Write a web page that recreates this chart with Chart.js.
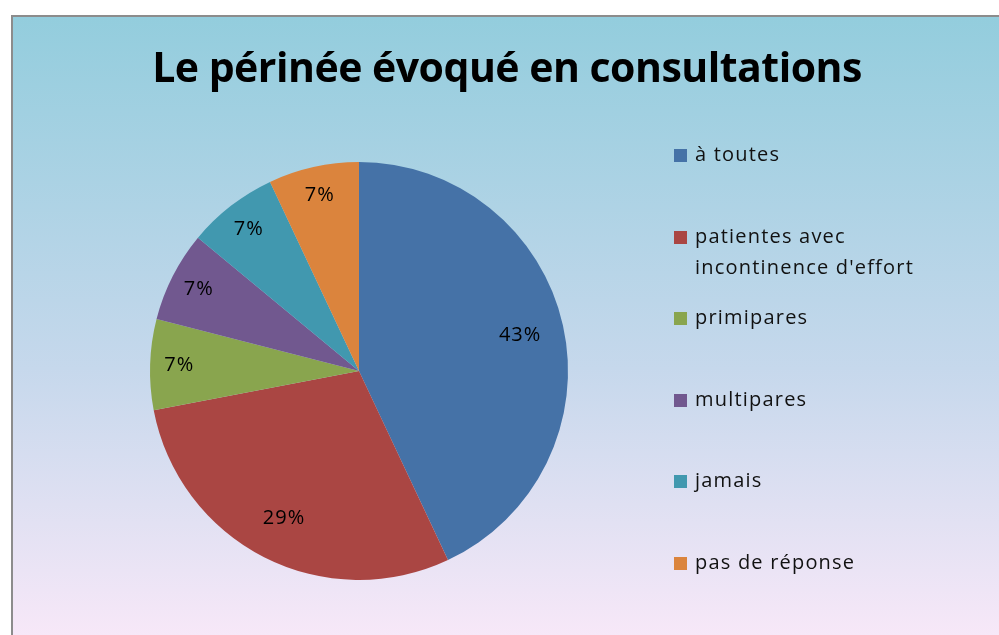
<!DOCTYPE html>
<html>
<head>
<meta charset="utf-8">
<script src="https://cdn.jsdelivr.net/npm/chart.js@4"></script>
<style>
  html, body { margin: 0; padding: 0; background: #fff; }
  body { width: 999px; height: 635px; position: relative; overflow: hidden; }
  .frame {
    position: absolute; left: 11px; top: 15px; width: 1000px; height: 640px;
    border: 2px solid #8c8c8c;
    background: linear-gradient(to bottom, #93cddd 0%, #c6d8ec 55%, #fbe9f9 100%);
  }
  #chart { position: absolute; left: 0; top: 0; }
  .title {
    position: absolute; left: 0; width: 1014px; top: 38px; text-align: center;
    font-family: "Open Sans", sans-serif; font-weight: bold; font-size: 41px; color: #000;
    letter-spacing: -0.5px;
  }
  .legend { position: absolute; left: 674px; top: 0; font-family: "Open Sans", sans-serif; font-size: 20px; letter-spacing: 1.2px; color: #111; }
  .legend .item { position: absolute; left: 0; white-space: nowrap; line-height: 31px; }
  .legend .box { position: absolute; left: 0; top: 10px; width: 13px; height: 13px; }
  .legend .txt { position: absolute; left: 21px; top: -1px; }
</style>
</head>
<body>
<div class="frame"></div>
<canvas id="chart" width="999" height="635"></canvas>
<div class="title" id="title"></div>
<div class="legend" id="legend"></div>
<script>
const chartTitle = 'Le périnée évoqué en consultations';
const categories = [
  ['à toutes'],
  ['patientes avec', "incontinence d'effort"],
  ['primipares'],
  ['multipares'],
  ['jamais'],
  ['pas de réponse'],
];
const shares = [43, 29, 7, 7, 7, 7];
const colors = ['#4572a7', '#aa4643', '#89a54e', '#71588f', '#4198af', '#db843d'];
const legendRows = [139, 221, 302, 384, 465, 547];

document.getElementById('title').textContent = chartTitle;

const legendEl = document.getElementById('legend');
categories.forEach((lines, i) => {
  const item = document.createElement('div');
  item.className = 'item';
  item.style.top = legendRows[i] + 'px';
  const box = document.createElement('div');
  box.className = 'box';
  box.style.background = colors[i];
  const txt = document.createElement('div');
  txt.className = 'txt';
  txt.innerHTML = lines.join('<br>');
  item.appendChild(box);
  item.appendChild(txt);
  legendEl.appendChild(item);
});

// percent labels inside each slice
const sliceLabels = {
  id: 'sliceLabels',
  afterDatasetsDraw(chart) {
    const { ctx } = chart;
    const meta = chart.getDatasetMeta(0);
    ctx.save();
    ctx.font = '20px "Open Sans", sans-serif';
    ctx.letterSpacing = '1px';
    ctx.fillStyle = '#000';
    ctx.textAlign = 'center';
    ctx.textBaseline = 'middle';
    meta.data.forEach((arc, i) => {
      const mid = (arc.startAngle + arc.endAngle) / 2;
      const r = arc.outerRadius * (shares[i] > 20 ? 0.79 : 0.86);
      ctx.fillText(shares[i] + '%', arc.x + Math.cos(mid) * r, arc.y + Math.sin(mid) * r);
    });
    ctx.restore();
  },
};

new Chart(document.getElementById('chart'), {
  type: 'pie',
  data: {
    labels: categories.map((l) => l.join(' ')),
    datasets: [{
      data: shares,
      backgroundColor: colors,
      borderWidth: 0,
    }],
  },
  options: {
    responsive: false,
    animation: false,
    layout: { padding: { left: 150, right: 431, top: 162, bottom: 55 } },
    plugins: {
      legend: { display: false },
      tooltip: { enabled: false },
    },
  },
  plugins: [sliceLabels],
});
</script>
</body>
</html>
